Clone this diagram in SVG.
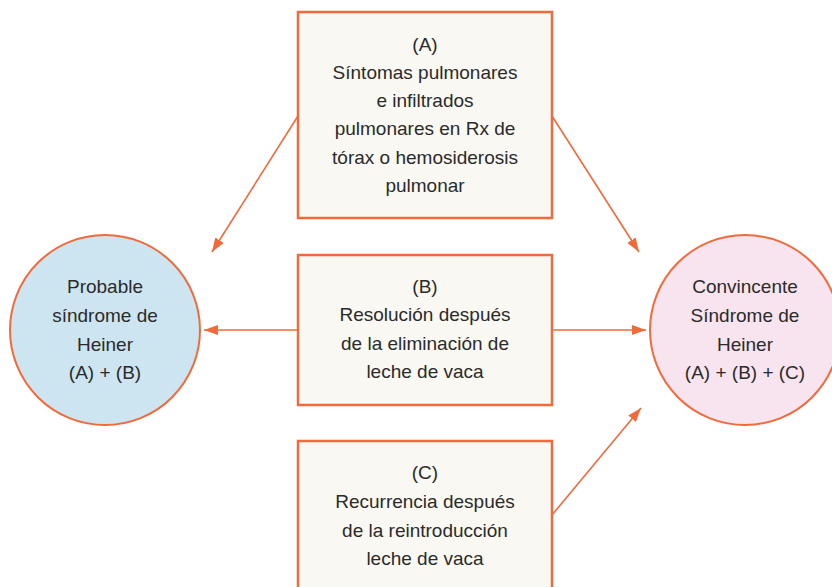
<svg xmlns="http://www.w3.org/2000/svg" width="832" height="587" viewBox="0 0 832 587">
<style>
.box{fill:#F9F8F3;stroke:#F26A3B;stroke-width:2.5}
.circ{stroke:#F26A3B;stroke-width:2}
.t{font-family:"Liberation Sans",Arial,sans-serif;font-size:19px;fill:#2B2B2B;text-anchor:middle}
.con{stroke:#F26A3B;stroke-width:1.6;fill:none;marker-end:url(#ah)}
</style>
<defs>
<marker id="ah" viewBox="0 0 14 10" refX="14" refY="5" markerWidth="14" markerHeight="10" markerUnits="userSpaceOnUse" orient="auto">
<path d="M0,0 L14,5 L0,10 Z" fill="#F26A3B"/>
</marker>
</defs>
<rect width="832" height="587" fill="#FFFFFF"/>
<g id="connectors">
<line class="con" x1="298" y1="116" x2="212" y2="252"/>
<line class="con" x1="552" y1="116" x2="639" y2="252"/>
<line class="con" x1="298" y1="330" x2="204" y2="330"/>
<line class="con" x1="552" y1="330" x2="646" y2="330"/>
<line class="con" x1="552" y1="515" x2="641" y2="408"/>
</g>
<g id="boxA">
<rect class="box" x="298" y="12" width="254" height="206"/>
<text class="t" x="425" y="51">(A)</text>
<text class="t" x="425" y="79">Síntomas pulmonares</text>
<text class="t" x="425" y="107">e infiltrados</text>
<text class="t" x="425" y="135">pulmonares en Rx de</text>
<text class="t" x="425" y="164">tórax o hemosiderosis</text>
<text class="t" x="425" y="192">pulmonar</text>
</g>
<g id="boxB">
<rect class="box" x="298" y="255" width="254" height="150"/>
<text class="t" x="425" y="293">(B)</text>
<text class="t" x="425" y="321">Resolución después</text>
<text class="t" x="425" y="350">de la eliminación de</text>
<text class="t" x="425" y="378">leche de vaca</text>
</g>
<g id="boxC">
<rect class="box" x="298" y="441" width="254" height="160"/>
<text class="t" x="425" y="479">(C)</text>
<text class="t" x="425" y="508">Recurrencia después</text>
<text class="t" x="425" y="537">de la reintroducción</text>
<text class="t" x="425" y="565">leche de vaca</text>
</g>
<g id="probable">
<circle class="circ" cx="105" cy="330" r="95" fill="#CDE5F1"/>
<text class="t" x="105" y="293">Probable</text>
<text class="t" x="105" y="322">síndrome de</text>
<text class="t" x="105" y="351">Heiner</text>
<text class="t" x="105" y="379">(A) + (B)</text>
</g>
<g id="convincente">
<circle class="circ" cx="745" cy="330" r="95" fill="#F8E4EE"/>
<text class="t" x="745" y="293">Convincente</text>
<text class="t" x="745" y="322">Síndrome de</text>
<text class="t" x="745" y="351">Heiner</text>
<text class="t" x="745" y="379">(A) + (B) + (C)</text>
</g>
</svg>
